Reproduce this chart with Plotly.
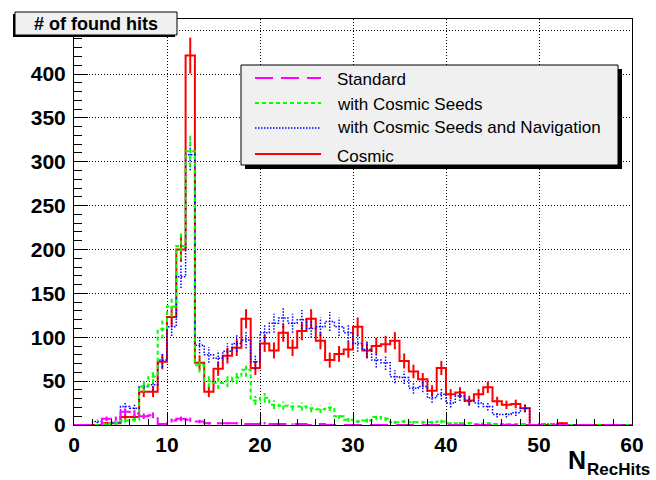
import numpy as np
import plotly.graph_objects as go

# ---------------- data (60 bins of width 1, from 0 to 60) ----------------
bin_edges = list(range(0, 61))
cosmic = [0, 0, 0, 2, 2, 9, 9, 38, 38, 72,
          123, 200, 421, 71, 38, 64, 79, 88, 121, 65,
          93, 85, 105, 88, 107, 121, 96, 74, 81, 86,
          112, 85, 90, 92, 96, 73, 61, 52, 39, 65,
          35, 37, 28, 35, 43, 27, 23, 24, 19, 0,
          0, 0, 2, 0, 0, 0, 0, 0, 0, 0]
seeds_nav = [0, 0, 4, 1, 3, 21, 19, 44, 46, 74,
             112, 169, 308, 91, 80, 76, 84, 93, 97, 72,
             105, 116, 122, 116, 120, 110, 112, 118, 112, 105,
             93, 86, 74, 71, 55, 54, 42, 44, 31, 35,
             25, 33, 27, 25, 21, 12, 12, 14, 19, 0,
             1, 1, 0, 0, 0, 0, 0, 0, 0, 0]
seeds = [0, 0, 0, 1, 2, 5, 6, 44, 55, 109,
         135, 204, 312, 68, 50, 48, 50, 54, 63, 28,
         31, 23, 22, 21, 21, 19, 18, 20, 10, 6,
         4, 5, 9, 7, 3, 4, 3, 3, 3, 4,
         2, 2, 2, 1, 2, 1, 1, 1, 1, 0,
         0, 0, 0, 0, 0, 0, 0, 0, 0, 0]
standard = [0, 0, 0, 7, 7, 15, 13, 10, 11, 1,
            5, 7, 6, 4, 2, 2, 2, 2, 1, 1,
            2, 1, 1, 1, 1, 0, 1, 0, 0, 0,
            0, 0, 0, 0, 0, 0, 0, 0, 0, 0,
            0, 0, 0, 0, 0, 0, 0, 0, 0, 0,
            0, 0, 0, 0, 0, 0, 0, 0, 0, 0]
tick_vals_x = [0, 10, 20, 30, 40, 50, 60]
tick_vals_y = [0, 50, 100, 150, 200, 250, 300, 350, 400, 450]
legend_names = ["Standard", "with Cosmic Seeds",
                "with Cosmic Seeds and Navigation", "Cosmic"]

# ---------------- styles ----------------
styles = {
    "Cosmic": dict(color="#ff0000", width=2, dash="solid"),
    "with Cosmic Seeds and Navigation": dict(color="#0000ff", width=1.5, dash="1.5px,1.5px"),
    "with Cosmic Seeds": dict(color="#00ff00", width=2, dash="4px,3px"),
    "Standard": dict(color="#ff00ff", width=2, dash="18px,8px"),
}

W, H = 656, 480
ML, MR, MT, MB = 74, 24, 19, 55
PW, PH = W - ML - MR, H - MT - MB
YMAX = 462.7
FAM = "Liberation Sans, Arial, sans-serif"


def pxx(x):
    return (x - ML) / PW


def pxy(y):
    return (H - MB - y) / PH


fig = go.Figure()


def add_hist(name, vals):
    st = styles[name]
    edges = np.array(bin_edges, dtype=float)
    v = np.array(vals, dtype=float)
    ys = np.append(v, v[-1])
    fig.add_trace(go.Scatter(x=edges, y=ys, mode="lines", line_shape="hv",
                             line=dict(color=st["color"], width=st["width"], dash=st["dash"]),
                             showlegend=False, hoverinfo="skip"))
    centers = (edges[:-1] + edges[1:]) / 2
    err = np.sqrt(v)
    ex, ey = [], []
    for c, val, e in zip(centers, v, err):
        if val > 0:
            ex += [c, c, None]
            ey += [val - e, val + e, None]
    fig.add_trace(go.Scatter(x=ex, y=ey, mode="lines",
                             line=dict(color=st["color"], width=st["width"], dash=st["dash"]),
                             showlegend=False, hoverinfo="skip"))


add_hist("Cosmic", cosmic)
add_hist("with Cosmic Seeds and Navigation", seeds_nav)
add_hist("with Cosmic Seeds", seeds)
add_hist("Standard", standard)

font_bold = dict(family=FAM, size=21, color="black", weight="bold")

fig.update_xaxes(range=[0, 60], tickvals=tick_vals_x, ticks="inside", ticklen=12,
                 tickcolor="black", tickwidth=1,
                 minor=dict(dtick=2, ticks="inside", ticklen=6, tickcolor="black", showgrid=False),
                 showline=True, linecolor="black", linewidth=1, mirror=True,
                 showgrid=True, gridcolor="black", gridwidth=1, griddash="1px,2px",
                 zeroline=False, tickfont=font_bold, ticklabelstandoff=1)
fig.update_yaxes(range=[0, YMAX], tickvals=tick_vals_y, ticks="inside", ticklen=14,
                 tickcolor="black", tickwidth=1,
                 minor=dict(dtick=10, ticks="inside", ticklen=8, tickcolor="black", showgrid=False),
                 showline=True, linecolor="black", linewidth=1, mirror=True,
                 showgrid=True, gridcolor="black", gridwidth=1, griddash="1px,2px",
                 zeroline=False, tickfont=font_bold, ticklabelstandoff=3)

shapes = []
annotations = []

# title box "# of found hits" (shadow + box)
shapes.append(dict(type="rect", xref="paper", yref="paper", layer="above",
                   x0=pxx(13), x1=pxx(175), y0=pxy(37), y1=pxy(14),
                   fillcolor="black", line=dict(width=0)))
shapes.append(dict(type="rect", xref="paper", yref="paper", layer="above",
                   x0=pxx(15), x1=pxx(177), y0=pxy(35), y1=pxy(12),
                   fillcolor="#f0f0f0", line=dict(color="black", width=1)))
annotations.append(dict(xref="paper", yref="paper", x=pxx(96), y=pxy(24),
                        xanchor="center", yanchor="middle", showarrow=False,
                        text="# of found hits",
                        font=dict(family=FAM, size=18, color="black", weight="bold")))

# legend box (shadow + box)
shapes.append(dict(type="rect", xref="paper", yref="paper", layer="above",
                   x0=pxx(245), x1=pxx(622), y0=pxy(169), y1=pxy(69),
                   fillcolor="black", line=dict(width=0)))
shapes.append(dict(type="rect", xref="paper", yref="paper", layer="above",
                   x0=pxx(241), x1=pxx(618), y0=pxy(165), y1=pxy(65),
                   fillcolor="#f0f0f0", line=dict(color="black", width=1)))
leg_line_y = [78, 103, 128, 154]
leg_text_y = [79, 104, 127, 156]
for name, ly, ty in zip(legend_names, leg_line_y, leg_text_y):
    st = styles[name]
    shapes.append(dict(type="line", xref="paper", yref="paper", layer="above",
                       x0=pxx(255), x1=pxx(321), y0=pxy(ly), y1=pxy(ly),
                       line=dict(color=st["color"], width=st["width"], dash=st["dash"])))
    annotations.append(dict(xref="paper", yref="paper", x=pxx(335), y=pxy(ty),
                            xanchor="left", yanchor="middle", showarrow=False,
                            text=name,
                            font=dict(family=FAM, size=17, color="black")))

# x-axis title N_RecHits
annotations.append(dict(xref="paper", yref="paper", x=pxx(566), y=pxy(460),
                        xanchor="left", yanchor="middle", showarrow=False, text="N",
                        font=dict(family=FAM, size=25, color="black", weight="bold")))
annotations.append(dict(xref="paper", yref="paper", x=pxx(585), y=pxy(469),
                        xanchor="left", yanchor="middle", showarrow=False, text="RecHits",
                        font=dict(family=FAM, size=17, color="black", weight="bold")))

fig.update_layout(width=W, height=H, margin=dict(l=ML, r=MR, t=MT, b=MB, pad=0),
                  paper_bgcolor="white", plot_bgcolor="white",
                  showlegend=False, shapes=shapes, annotations=annotations)

fig.write_html("out.html")
